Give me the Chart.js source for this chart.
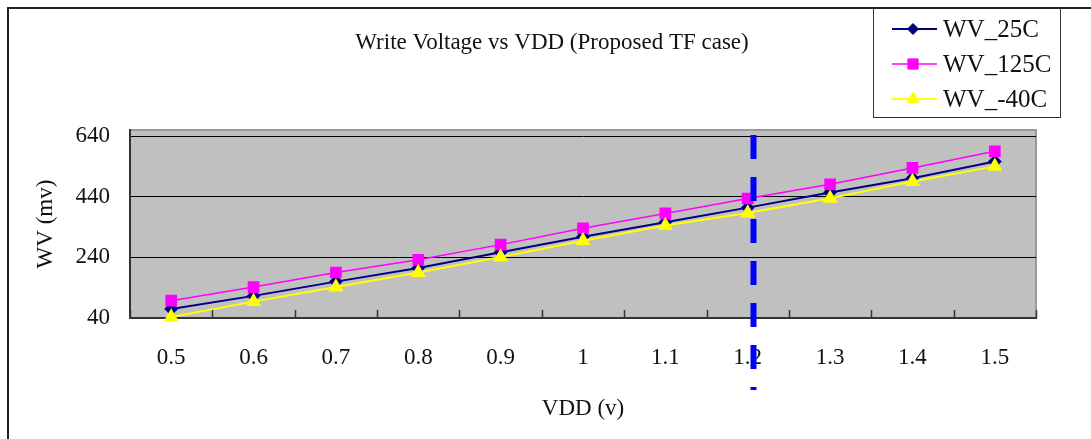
<!DOCTYPE html>
<html>
<head>
<meta charset="utf-8">
<script src="https://cdn.jsdelivr.net/npm/chart.js@4.4.1/dist/chart.umd.min.js"></script>
<style>
  html, body { margin: 0; padding: 0; background: #fff; }
  #wrap { position: relative; width: 1091px; height: 439px; }
  #frame { position: absolute; left: 7px; top: 7px; right: 0; bottom: 0;
           border-top: 2px solid #222; border-left: 2px solid #222; pointer-events: none; }
</style>
</head>
<body>
<div id="wrap">
  <canvas id="c" width="1091" height="439"></canvas>
  <div id="frame"></div>
</div>
<script>
// ---- data ----
const vdd = ['0.5','0.6','0.7','0.8','0.9','1','1.1','1.2','1.3','1.4','1.5'];
const wv25  = [70, 113, 160, 205, 257, 308, 356, 404, 454, 501, 556];
const wv125 = [97, 142, 190, 232, 282, 336, 385, 434, 481, 535, 590];
const wvM40 = [43,  94, 142, 190, 241, 295, 345, 386, 435, 490, 540];
const yTicks = [40, 240, 440, 640];
const seriesNames = ['WV_25C', 'WV_125C', 'WV_-40C'];
const titleText = 'Write Voltage vs VDD (Proposed TF case)';
const xTitle = 'VDD (v)';
const yTitle = 'WV (mv)';
const markerVDD = '1.2';

const FONT = "'Liberation Serif', 'Times New Roman', serif";

const bgPlugin = {
  id: 'bg',
  beforeDraw(chart) {
    const {ctx, chartArea: a} = chart;
    ctx.save();
    ctx.fillStyle = '#C0C0C0';
    ctx.fillRect(a.left, a.top, a.right - a.left, a.bottom - a.top);
    ctx.strokeStyle = '#9a9a9a';
    ctx.lineWidth = 2;
    ctx.strokeRect(a.left, a.top, a.right - a.left, a.bottom - a.top);
    ctx.restore();
  }
};

const decoPlugin = {
  id: 'deco',
  afterDatasetsDraw(chart) {
    const {ctx, chartArea: a, scales: {x}} = chart;
    ctx.save();
    // inner tick marks at category boundaries
    ctx.strokeStyle = '#333';
    ctx.lineWidth = 1.5;
    for (let i = 0; i <= vdd.length; i++) {
      const px = Math.round(x.getPixelForValue(i - 0.5)) + 0.5;
      ctx.beginPath();
      ctx.moveTo(px, a.bottom);
      ctx.lineTo(px, a.bottom - 8);
      ctx.stroke();
    }
    ctx.restore();
  },
  afterDraw(chart) {
    const {ctx, chartArea: a, scales: {x}} = chart;
    ctx.save();
    // title
    ctx.fillStyle = '#111';
    ctx.font = '23px ' + FONT;
    ctx.textAlign = 'center';
    ctx.textBaseline = 'middle';
    ctx.fillText(titleText, 552, 43);
    // dashed marker line
    const idx = vdd.indexOf(markerVDD);
    const mx = x.getPixelForValue(idx + 0.07);
    ctx.strokeStyle = '#0000FF';
    ctx.lineWidth = 6;
    ctx.setLineDash([24, 18]);
    ctx.beginPath();
    ctx.moveTo(mx, a.top + 5);
    ctx.lineTo(mx, a.bottom + 72);
    ctx.stroke();
    ctx.setLineDash([]);
    // legend
    const bx = 873, by = 8, bw = 187, bh = 109;
    ctx.fillStyle = '#fff';
    ctx.fillRect(bx, by, bw, bh);
    ctx.strokeStyle = '#333';
    ctx.lineWidth = 1;
    ctx.strokeRect(bx + 0.5, by + 0.5, bw, bh);
    ctx.font = '25px ' + FONT;
    ctx.textAlign = 'left';
    ctx.textBaseline = 'middle';
    const rows = [0, 1, 2];
    rows.forEach((i, r) => {
      const ds = chart.data.datasets[i];
      const ly = by + 21 + r * 35;
      ctx.strokeStyle = ds.borderColor;
      ctx.lineWidth = ds.borderWidth;
      ctx.beginPath();
      ctx.moveTo(bx + 19, ly);
      ctx.lineTo(bx + 64, ly);
      ctx.stroke();
      ctx.fillStyle = ds.pointBackgroundColor;
      ctx.strokeStyle = ds.pointBorderColor;
      ctx.lineWidth = 1;
      Chart.helpers.drawPoint(ctx, {pointStyle: ds.pointStyle, radius: ds.pointRadius, rotation: 0, borderWidth: 1}, bx + 40, ly);
      ctx.fillStyle = '#111';
      ctx.fillText(ds.label, bx + 70, ly + 1);
    });
    ctx.restore();
  }
};

new Chart(document.getElementById('c'), {
  type: 'line',
  data: {
    labels: vdd,
    datasets: [
      { label: seriesNames[0], data: wv25, borderColor: '#000080', borderWidth: 2,
        pointStyle: 'rectRot', pointRadius: 5.5, pointBackgroundColor: '#000080', pointBorderColor: '#000080',
        order: 3, clip: false },
      { label: seriesNames[1], data: wv125, borderColor: '#FF00FF', borderWidth: 1.5,
        pointStyle: 'rect', pointRadius: 7.2, pointBackgroundColor: '#FF00FF', pointBorderColor: '#FF00FF',
        order: 2, clip: false },
      { label: seriesNames[2], data: wvM40, borderColor: '#FFFF00', borderWidth: 2,
        pointStyle: 'triangle', pointRadius: 6.8, pointBackgroundColor: '#FFFF00', pointBorderColor: '#FFFF00',
        order: 1, clip: false }
    ]
  },
  options: {
    responsive: false,
    animation: false,
    devicePixelRatio: 1,
    layout: { padding: { top: 130, left: 0, right: 55, bottom: 0 } },
    plugins: { legend: { display: false }, title: { display: false }, tooltip: { enabled: false } },
    elements: { line: { tension: 0 } },
    scales: {
      x: {
        offset: true,
        grid: { display: false, drawTicks: false },
        border: { display: true, color: '#333', width: 2 },
        ticks: { color: '#111', font: { family: FONT, size: 23 }, padding: 26, maxRotation: 0, autoSkip: false },
        title: { display: true, text: xTitle, color: '#111', font: { family: FONT, size: 23 }, padding: { top: 0, bottom: 16 } },
        afterFit(s) { s.height = 121; }
      },
      y: {
        min: 40, max: 660,
        afterBuildTicks(s) { s.ticks = yTicks.map(v => ({ value: v })); },
        grid: { color: '#000', lineWidth: 1, drawTicks: false },
        border: { display: true, color: '#333', width: 2 },
        ticks: { color: '#111', font: { family: FONT, size: 23 }, padding: 20 },
        title: { display: true, text: yTitle, color: '#111', font: { family: FONT, size: 23 }, padding: { top: 32, bottom: 0 } },
        afterFit(s) { s.width = 130; }
      }
    }
  },
  plugins: [bgPlugin, decoPlugin]
});
</script>
</body>
</html>
